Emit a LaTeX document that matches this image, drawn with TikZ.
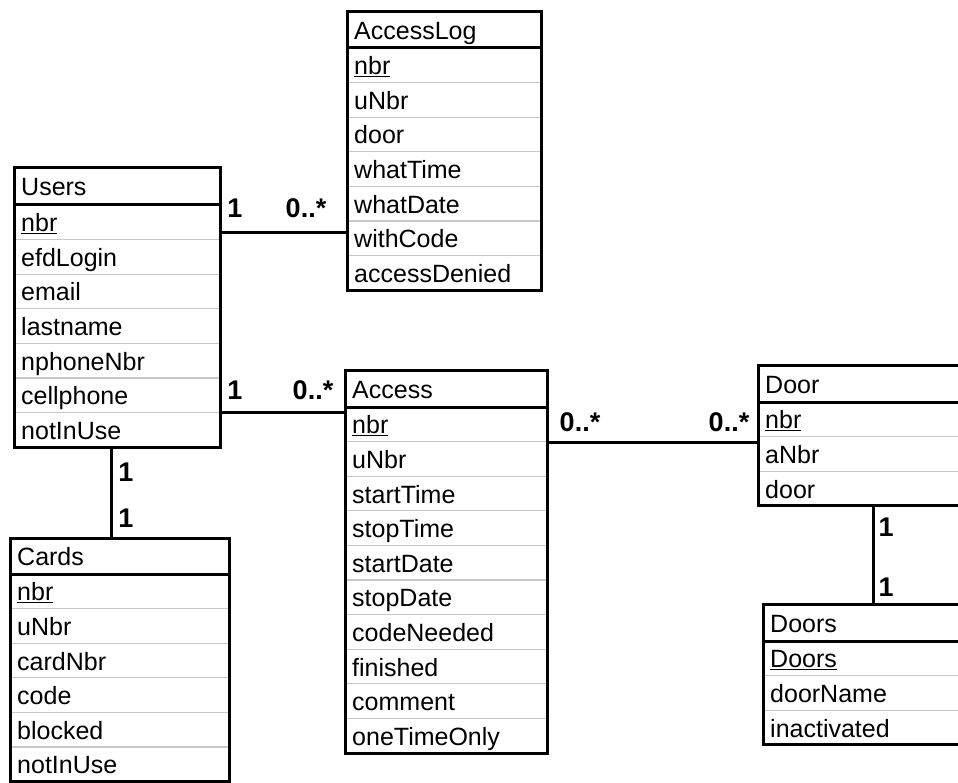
\documentclass[tikz,border=0pt]{standalone}
\usepackage{fontspec}
\setmainfont{Liberation Sans}
\usetikzlibrary{fit}

% one class box: #1 name, #2 left, #3 top, #4 right, #5 bottom of the title band,
% #6 bottom, #7 title, #8 comma list of attributes (34.6 units per row)
\newcommand\umlclass[8]{%
  \foreach \t [count=\i] in {#8} {
    \ifnum\i>1
      \draw[sep] ({#2},{#5+(\i-1)*34.6}) -- ({#4},{#5+(\i-1)*34.6});
    \fi
    \node[field] (#1-\i) at ({#2+7},{#5+(\i-0.5)*34.6+9.5}) {\t};
  }
  \node[field] (#1-title) at ({#2+7},{(#3+#5)/2+9.5}) {#7};
  \node[classbox, fit={(#2,#3) (#4,#6)}] (#1) {};
  \draw[rule] (#2,#5) -- (#4,#5);
}

\begin{document}
\begin{tikzpicture}[x=1pt, y=-1pt,
  classbox/.style={draw=black, line width=3pt, inner sep=0pt},
  rule/.style={draw=black, line width=3pt},
  sep/.style={draw=black!22, line width=1.2pt},
  field/.style={anchor=base west, inner sep=0pt, font=\fontsize{25}{25}\selectfont},
  mult/.style={inner sep=0pt, font=\bfseries\fontsize{27}{27}\selectfont},
  link/.style={draw=black, line width=3pt}]

\clip (0,0) rectangle (958,783);
\fill[white] (0,0) rectangle (958,783);

\umlclass{users}{14}{168}{220}{205}{447.2}{Users}%
  {\underline{nbr},efdLogin,email,lastname,nphoneNbr,cellphone,notInUse}
\umlclass{accesslog}{347}{12}{541}{48}{290.2}{AccessLog}%
  {\underline{nbr},uNbr,door,whatTime,whatDate,withCode,accessDenied}
\umlclass{access}{345}{370}{547}{407}{753}{Access}%
  {\underline{nbr},uNbr,startTime,stopTime,startDate,stopDate,codeNeeded,finished,comment,oneTimeOnly}
\umlclass{door}{758}{365}{980}{402}{505.8}{Door}%
  {\underline{nbr},aNbr,door}
\umlclass{doors}{763}{604}{980}{641}{744.8}{Doors}%
  {\underline{Doors},doorName,inactivated}
\umlclass{cards}{10}{538}{229}{574}{781.6}{Cards}%
  {\underline{nbr},uNbr,cardNbr,code,blocked,notInUse}

% associations
\draw[link] (users.east |- 0,233) -- (accesslog.west |- 0,233);
\draw[link] (users.east |- 0,412) -- (access.west |- 0,412);
\draw[link] (access.east |- 0,442) -- (door.west |- 0,442);
\draw[link] (users.south -| 111,0) -- (cards.north -| 111,0);
\draw[link] (door.south -| 873,0) -- (doors.north -| 873,0);

% multiplicities
\node[mult] (m1) at (235,208) {1};
\node[mult] (m2) at (306,208) {0..*};
\node[mult] (m3) at (235,390) {1};
\node[mult] (m4) at (313,390) {0..*};
\node[mult] (m5) at (580,422) {0..*};
\node[mult] (m6) at (729,422) {0..*};
\node[mult] (m7) at (126,472) {1};
\node[mult] (m8) at (126,518) {1};
\node[mult] (m9) at (886,527) {1};
\node[mult] (m10) at (886,587) {1};
\end{tikzpicture}
\end{document}
